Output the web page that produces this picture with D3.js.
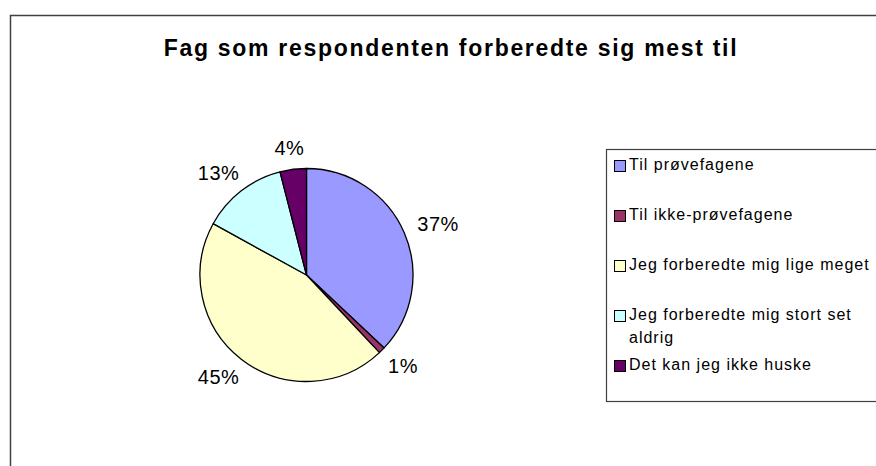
<!DOCTYPE html>
<html>
<head>
<meta charset="utf-8">
<script src="https://cdn.jsdelivr.net/npm/d3@7"></script>
<style>
  body { margin: 0; background: #fff; }
  svg { display: block; font-family: "Liberation Sans", Arial, sans-serif; }
</style>
</head>
<body>
<svg></svg>
<script>
// chart data
const title = 'Fag som respondenten forberedte sig mest til';
const categories = ['Til prøvefagene', 'Til ikke-prøvefagene', 'Jeg forberedte mig lige meget',
    'Jeg forberedte mig stort set aldrig', 'Det kan jeg ikke huske'];
const values = [37, 1, 45, 13, 4];
const colors = ['#9999ff', '#993366', '#ffffcc', '#ccffff', '#660066'];

const width = 876, height = 466;
const svg = d3.select('svg')
    .attr('width', width)
    .attr('height', height);

// chart frame, right and bottom edge fall outside the picture
svg.append('rect')
    .attr('x', 10.5).attr('y', 15.5)
    .attr('width', 900).attr('height', 500)
    .attr('fill', 'none')
    .attr('stroke', '#404040')
    .attr('stroke-width', 1.5);

svg.append('text')
    .attr('x', 451).attr('y', 56)
    .attr('text-anchor', 'middle')
    .attr('font-size', 23)
    .attr('font-weight', 'bold')
    .attr('letter-spacing', 1.7)
    .text(title);

// pie
const cx = 306.5, cy = 275, r = 106.5;
const pie = d3.pie().sort(null).value(d => d);
const arcs = pie(values);
const arc = d3.arc().innerRadius(0).outerRadius(r);

const g = svg.append('g').attr('transform', `translate(${cx},${cy})`);
g.selectAll('path')
    .data(arcs)
    .join('path')
    .attr('d', arc)
    .attr('fill', (d, i) => colors[i])
    .attr('stroke', '#000')
    .attr('stroke-width', 1.3)
    .attr('stroke-linejoin', 'round');

// percent labels, placed just outside the slice edge like excel does
const gap = 12, halfH = 10;
g.selectAll('text.pct')
    .data(arcs)
    .join('text')
    .attr('class', 'pct')
    .attr('font-size', 20)
    .attr('letter-spacing', 0.5)
    .attr('text-anchor', 'middle')
    .attr('dy', '0.35em')
    .text(d => Math.round(d.value / d3.sum(values) * 100) + '%')
    .each(function(d) {
        const a = (d.startAngle + d.endAngle) / 2,
            ux = Math.sin(a), uy = -Math.cos(a),
            halfW = this.getComputedTextLength() / 2;
        d3.select(this)
            .attr('x', ux * (r + gap) + ux * halfW * 1.2)
            .attr('y', uy * (r + gap) + uy * halfH);
    });

// legend
const legX = 606, legY = 149;
svg.append('rect')
    .attr('x', legX + 0.5).attr('y', legY + 0.5)
    .attr('width', 400).attr('height', 252)
    .attr('fill', '#fff')
    .attr('stroke', '#404040')
    .attr('stroke-width', 1.2);

const maxW = 244;
const items = svg.append('g').selectAll('g')
    .data(categories)
    .join('g')
    .attr('transform', (d, i) => `translate(0,${170 + i * 50})`);

items.append('rect')
    .attr('x', 614.5).attr('y', -9.5)
    .attr('width', 11).attr('height', 11)
    .attr('fill', (d, i) => colors[i])
    .attr('stroke', '#000')
    .attr('stroke-width', 1);

items.append('text')
    .attr('font-size', 16)
    .attr('letter-spacing', 1)
    .each(function(d) {
        // wrap the label over lines if it does not fit
        const t = d3.select(this);
        const words = d.split(' ');
        let line = [], tspan = t.append('tspan').attr('x', 629).attr('y', 0), lineNo = 0;
        words.forEach(w => {
            line.push(w);
            tspan.text(line.join(' '));
            if (this.getComputedTextLength() > maxW && line.length > 1) {
                line.pop();
                tspan.text(line.join(' '));
                line = [w];
                lineNo++;
                tspan = t.append('tspan').attr('x', 629).attr('y', lineNo * 23).text(w);
            }
        });
    });
</script>
</body>
</html>
